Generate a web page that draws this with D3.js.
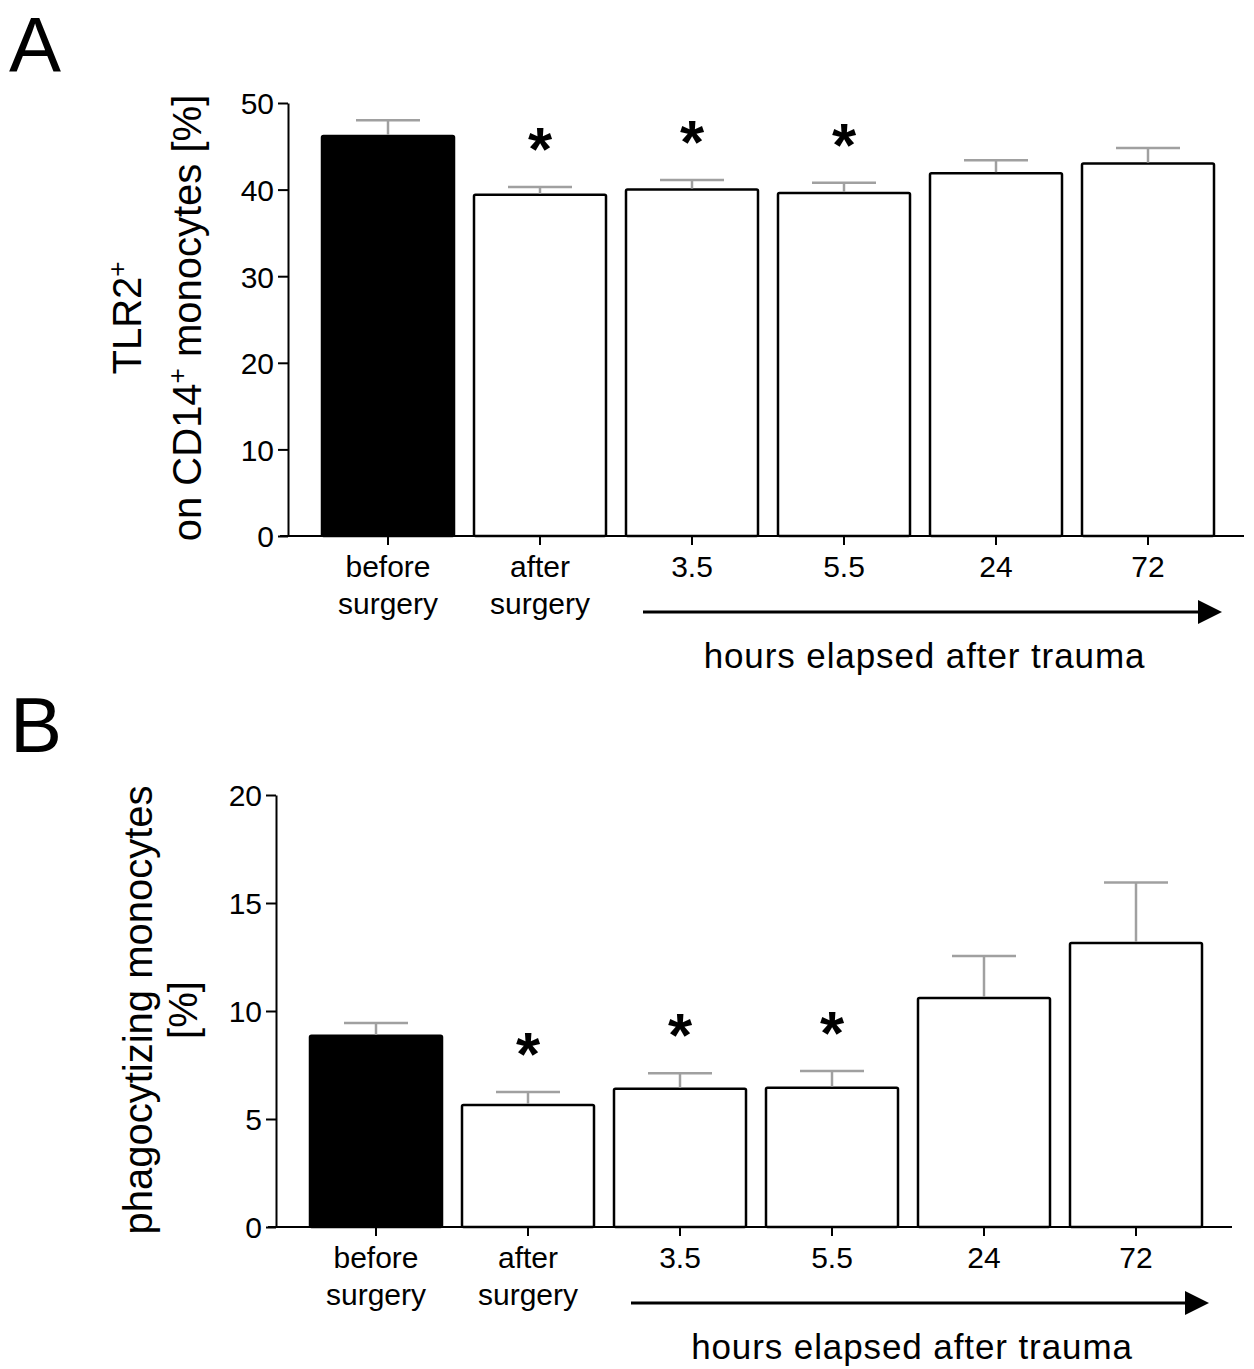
<!DOCTYPE html>
<html>
<head>
<meta charset="utf-8">
<script src="https://cdn.jsdelivr.net/npm/d3@7"></script>
<style>
  body { margin: 0; background: #fff; }
  svg text { font-family: "Liberation Sans", Arial, sans-serif; fill: #000; }
</style>
</head>
<body>
<script>

// categories on the x axis (two lines each)
var categories = ["before surgery", "after surgery", "3.5", "5.5", "24", "72"],
    catLines = [["before", "surgery"], ["after", "surgery"], ["3.5"], ["5.5"], ["24"], ["72"]],

    // panel A: TLR2+ on CD14+ monocytes [%]
    tlr2Mean = [46.2, 39.4, 40.0, 39.6, 41.9, 43.0],
    tlr2Sem  = [1.8, 0.9, 1.1, 1.2, 1.5, 1.8],
    tlr2Ticks = [0, 10, 20, 30, 40, 50],

    // panel B: phagocytizing monocytes [%]
    phagoMean = [8.85, 5.65, 6.4, 6.45, 10.6, 13.15],
    phagoSem  = [0.6, 0.6, 0.72, 0.77, 1.95, 2.8],
    phagoTicks = [0, 5, 10, 15, 20],

    // which bars carry an asterisk
    significant = [false, true, true, true, false, false];

var W = 1254, H = 1369,
    step = 152,
    barW = 132;

var svg = d3.select("body").append("svg")
    .attr("width", W)
    .attr("height", H);

svg.append("defs").append("marker")
    .attr("id", "arrowhead")
    .attr("viewBox", "0 0 10 10")
    .attr("refX", 0).attr("refY", 5)
    .attr("markerWidth", 28).attr("markerHeight", 24)
    .attr("markerUnits", "userSpaceOnUse")
    .attr("orient", "auto")
    .append("path").attr("d", "M0,0 L10,5 L0,10 z").attr("fill", "#000");

function drawPanel(p) {
    var g = svg.append("g");

    // first bar begins 34px right of the y axis, bars 132 wide, 152 apart
    var pInner = (step - barW) / step,
        pOuter = 34 / step;
    var x = d3.scaleBand()
        .domain(categories)
        .range([p.left, p.left + step * (categories.length - pInner + 2 * pOuter)])
        .paddingInner(pInner)
        .paddingOuter(pOuter);

    var y = d3.scaleLinear()
        .domain([0, p.max])
        .range([p.bottom, p.top]);

    var cx = function (i) { return x(categories[i]) + x.bandwidth() / 2; };

    // panel letter
    g.append("text")
        .attr("x", p.letterX).attr("y", p.letterY)
        .style("font-size", "78px")
        .text(p.letter);

    // bars
    g.selectAll("rect.bar")
        .data(p.mean)
        .enter().append("rect")
        .attr("class", "bar")
        .attr("x", function (d, i) { return x(categories[i]); })
        .attr("y", function (d) { return y(d); })
        .attr("width", x.bandwidth())
        .attr("height", function (d) { return y(0) - y(d); })
        .attr("rx", 1.5)
        .attr("fill", function (d, i) { return i == 0 ? "#000" : "#fff"; })
        .attr("stroke", "#000")
        .attr("stroke-width", 2.5);

    // error bars (upper only)
    var err = g.selectAll("g.err")
        .data(p.mean)
        .enter().append("g")
        .attr("class", "err")
        .attr("stroke", "#a0a0a0")
        .attr("stroke-width", 2.5);

    err.append("line")
        .attr("x1", function (d, i) { return cx(i); })
        .attr("x2", function (d, i) { return cx(i); })
        .attr("y1", function (d) { return y(d) - 1; })
        .attr("y2", function (d, i) { return y(d + p.sem[i]); });

    err.append("line")
        .attr("x1", function (d, i) { return cx(i) - 32; })
        .attr("x2", function (d, i) { return cx(i) + 32; })
        .attr("y1", function (d, i) { return y(d + p.sem[i]); })
        .attr("y2", function (d, i) { return y(d + p.sem[i]); });

    // asterisks
    var starData = p.mean.map(function (d, i) { return {i: i, top: d + p.sem[i]}; })
        .filter(function (d) { return significant[d.i]; });
    g.selectAll("text.star")
        .data(starData)
        .enter().append("text")
        .attr("class", "star")
        .attr("x", function (d) { return cx(d.i); })
        .attr("y", function (d) { return y(d.top) - 17; })
        .attr("text-anchor", "middle")
        .style("font-size", "62px")
        .style("font-weight", "bold")
        .text("*");

    // y axis
    var yAxis = g.append("g")
        .attr("transform", "translate(" + p.left + ",0)")
        .call(d3.axisLeft(y).tickValues(p.ticks).tickSize(10).tickPadding(4).tickSizeOuter(0));
    yAxis.select(".domain").attr("stroke-width", 2);
    yAxis.selectAll(".tick line").attr("stroke-width", 2);
    yAxis.selectAll(".tick text")
        .style("font-size", "30px")
        .attr("dy", "0.36em")
        .style("font-family", "Liberation Sans, Arial, sans-serif");

    // x axis
    var xAxis = g.append("g")
        .attr("transform", "translate(0," + p.bottom + ")")
        .call(d3.axisBottom(x).tickSize(9).tickSizeOuter(0).tickFormat(""));
    xAxis.select(".domain")
        .attr("d", "M" + (p.left - 8) + ",0H" + p.axisEnd)
        .attr("stroke-width", 2);
    xAxis.selectAll(".tick line").attr("stroke-width", 2);

    // x category labels, one or two lines
    var lbl = g.selectAll("text.cat")
        .data(catLines)
        .enter().append("text")
        .attr("class", "cat")
        .attr("text-anchor", "middle")
        .attr("transform", function (d, i) {
            return "translate(" + cx(i) + "," + (p.bottom + 41) + ")";
        })
        .style("font-size", "30px");
    lbl.selectAll("tspan")
        .data(function (d) { return d; })
        .enter().append("tspan")
        .attr("x", 0)
        .attr("dy", function (d, i) { return i == 0 ? 0 : 37; })
        .text(function (d) { return d; });

    // arrow for hours elapsed
    g.append("line")
        .attr("x1", p.arrowX1).attr("x2", p.arrowX2 - 28)
        .attr("y1", p.bottom + 76).attr("y2", p.bottom + 76)
        .attr("stroke", "#000")
        .attr("stroke-width", 3)
        .attr("marker-end", "url(#arrowhead)");

    g.append("text")
        .attr("x", (p.arrowX1 + p.arrowX2) / 2 - 10)
        .attr("y", p.bottom + 132)
        .attr("text-anchor", "middle")
        .style("font-size", "35px")
        .style("letter-spacing", "0.9px")
        .text("hours elapsed after trauma");

    // y label, rotated, two lines
    var yl = g.append("text")
        .attr("transform", "translate(" + p.labelX + "," + p.labelY + ") rotate(-90)")
        .attr("text-anchor", "middle")
        .style("font-size", "40px");
    p.labelLines.forEach(function (line, li) {
        var t = yl.append("tspan")
            .attr("x", 0)
            .attr("dy", li == 0 ? 0 : p.labelGap);
        line.forEach(function (part) {
            var s = t.append("tspan").text(part.t);
            if (part.sup) {
                s.style("font-size", "26px").attr("baseline-shift", "super");
            }
        });
    });
}

drawPanel({
    letter: "A", letterX: 9, letterY: 72,
    left: 288, top: 103, bottom: 536, axisEnd: 1244, max: 50,
    mean: tlr2Mean, sem: tlr2Sem, ticks: tlr2Ticks,
    arrowX1: 643, arrowX2: 1226,
    labelX: 141, labelY: 318, labelGap: 60,
    labelLines: [
        [{t: "TLR2"}, {t: "+", sup: true}],
        [{t: "on CD14"}, {t: "+", sup: true}, {t: " monocytes [%]"}]
    ]
});

drawPanel({
    letter: "B", letterX: 10, letterY: 752,
    left: 276, top: 795, bottom: 1227, axisEnd: 1232, max: 20,
    mean: phagoMean, sem: phagoSem, ticks: phagoTicks,
    arrowX1: 631, arrowX2: 1213,
    labelX: 152, labelY: 1010, labelGap: 45,
    labelLines: [
        [{t: "phagocytizing monocytes"}],
        [{t: "[%]"}]
    ]
});

</script>
</body>
</html>
